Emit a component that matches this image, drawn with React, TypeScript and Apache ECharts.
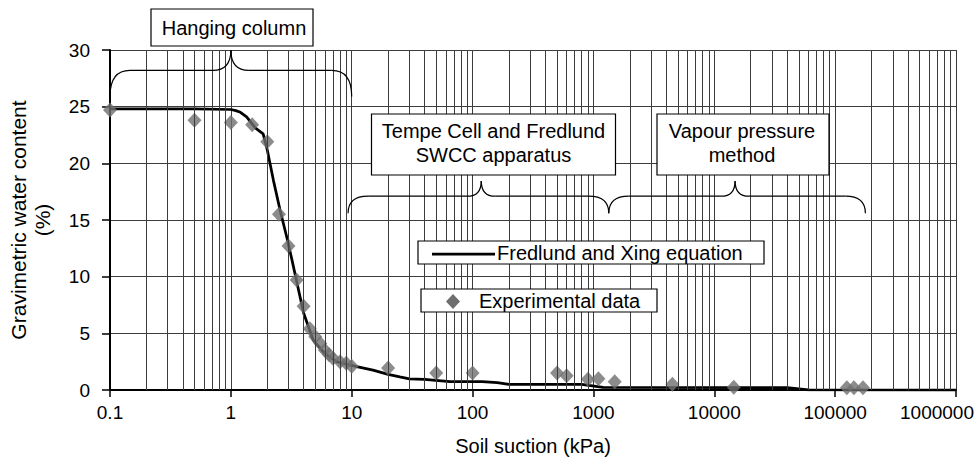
import React, { useEffect, useRef } from "react";
import * as echarts from "echarts";

// Experimental data (soil suction kPa, gravimetric water content %)
const expSuction = [0.1, 0.5, 1, 1.5, 2, 2.5, 3, 3.5, 4, 4.5, 5, 5.5, 6, 6.5, 7, 8, 9, 10, 20, 50, 100, 500, 600, 900, 1100, 1500, 4500, 14500, 125000, 143000, 170000];
const expWater = [24.7, 23.8, 23.6, 23.4, 21.9, 15.5, 12.7, 9.7, 7.4, 5.4, 4.7, 4.1, 3.5, 3.1, 2.8, 2.5, 2.35, 2.1, 1.95, 1.5, 1.5, 1.5, 1.25, 0.95, 1.0, 0.73, 0.5, 0.25, 0.2, 0.2, 0.2];

// Fredlund and Xing equation curve
const fitSuction = [0.1, 0.5, 1, 1.1, 1.2, 1.35, 1.6, 1.85, 2, 2.25, 2.55, 2.9, 3.2, 3.5, 4, 4.8, 6, 7.5, 11, 15, 20, 25, 30, 40, 65, 120, 160, 200, 800, 1200, 40000, 60000, 1000000];
const fitWater = [24.8, 24.8, 24.75, 24.65, 24.5, 24.1, 23.1, 22.6, 21.2, 18.5, 15.9, 13.5, 11.5, 9.6, 6.8, 4.4, 3.2, 2.5, 2.06, 1.76, 1.38, 1.15, 0.98, 0.94, 0.73, 0.73, 0.65, 0.5, 0.5, 0.24, 0.2, 0.02, 0];

const xTitle = "Soil suction (kPa)";
const yTitle = "Gravimetric water content\n(%)";
const legendLine = "Fredlund and Xing equation";
const legendMarker = "Experimental data";
const boxHanging = "Hanging column";
const boxTempe = "Tempe Cell and Fredlund\nSWCC apparatus";
const boxVapour = "Vapour pressure\nmethod";

const FONT = "'Liberation Sans', Arial, Helvetica, sans-serif";
const GRID_COLOR = "#3c3c3c";
const MARK_COLOR = "#6f6f6f";

export default function App() {
  const ref = useRef<HTMLDivElement>(null);
  useEffect(() => {
    const el = ref.current as HTMLDivElement;
    const chart = echarts.init(el, undefined, { renderer: "svg" });

    const minor: number[] = [];
    for (let e = -1; e < 6; e++) {
      for (let k = 2; k <= 9; k++) minor.push(Number((k * Math.pow(10, e)).toPrecision(6)));
    }

    chart.setOption({
      animation: false,
      backgroundColor: "#fff",
      grid: { left: 110, right: 21, top: 50, bottom: 72, containLabel: false, outerBoundsMode: "none" },
      xAxis: {
        type: "log",
        logBase: 10,
        min: 0.1,
        max: 1000000,
        splitNumber: 7,
        axisLine: { show: true, onZero: false, lineStyle: { color: "#000", width: 2 } },
        axisTick: { show: true, inside: false, length: 7, lineStyle: { color: "#000", width: 1.5 } },
        axisLabel: {
          color: "#000",
          fontSize: 19,
          fontFamily: FONT,
          margin: 13,
          hideOverlap: false,
          formatter: (v: number) => {
            const s = String(Number(v.toPrecision(6)));
            return v >= 999999 ? `{last|${s}}` : s;
          },
          rich: {
            last: { color: "#000", fontSize: 19, fontFamily: FONT, padding: [0, 38, 0, 0] },
          },
        },
        splitLine: { show: true, lineStyle: { color: GRID_COLOR, width: 1 } },
        minorTick: { show: false },
        minorSplitLine: { show: false },
      },
      yAxis: {
        type: "value",
        min: 0,
        max: 30,
        interval: 5,
        axisLine: { show: true, lineStyle: { color: "#000", width: 2 } },
        axisTick: { show: true, inside: false, length: 8, lineStyle: { color: "#000", width: 1.5 } },
        axisLabel: { color: "#000", fontSize: 19, fontFamily: FONT, margin: 20 },
        splitLine: { show: true, lineStyle: { color: GRID_COLOR, width: 1 } },
      },
      series: [
        {
          name: "minorGrid",
          type: "line",
          data: [],
          silent: true,
          markLine: {
            silent: true,
            symbol: ["none", "none"],
            label: { show: false },
            emphasis: { disabled: true },
            lineStyle: { color: GRID_COLOR, width: 1, type: "solid" },
            data: minor.map((v) => ({ xAxis: v })),
          },
        },
        {
          name: legendLine,
          type: "line",
          data: fitSuction.map((x, i) => [x, fitWater[i]]),
          showSymbol: false,
          symbol: "none",
          smooth: false,
          lineStyle: { color: "#000", width: 2.75 },
          z: 3,
          silent: true,
        },
        {
          name: legendMarker,
          type: "scatter",
          data: expSuction.map((x, i) => [x, expWater[i]]),
          symbol: "diamond",
          symbolSize: [14, 15],
          itemStyle: { color: MARK_COLOR },
          clip: false,
          z: 4,
          silent: true,
        },
      ],
    });

    const p = (x: number, y: number) => chart.convertToPixel({ gridIndex: 0 }, [x, y]) as number[];

    const brace = (xa: number, xp: number, xb: number, yTip: number, yMid: number, yPeak: number, rEnd: number, rPeak: number) => {
      const A = p(xa, yTip);
      const P = p(xp, yPeak);
      const B = p(xb, yTip);
      const ym = p(xa, yMid)[1];
      const st = { stroke: "#000", lineWidth: 1.2, fill: "none" };
      const z = 50;
      return [
        { type: "bezierCurve", z, shape: { x1: A[0], y1: A[1], cpx1: A[0], cpy1: ym, x2: A[0] + rEnd, y2: ym }, style: st },
        { type: "line", z, shape: { x1: A[0] + rEnd, y1: ym, x2: P[0] - rPeak, y2: ym }, style: st },
        { type: "bezierCurve", z, shape: { x1: P[0] - rPeak, y1: ym, cpx1: P[0], cpy1: ym, x2: P[0], y2: P[1] }, style: st },
        { type: "bezierCurve", z, shape: { x1: P[0], y1: P[1], cpx1: P[0], cpy1: ym, x2: P[0] + rPeak, y2: ym }, style: st },
        { type: "line", z, shape: { x1: P[0] + rPeak, y1: ym, x2: B[0] - rEnd, y2: ym }, style: st },
        { type: "bezierCurve", z, shape: { x1: B[0] - rEnd, y1: ym, cpx1: B[0], cpy1: ym, x2: B[0], y2: B[1] }, style: st },
      ];
    };

    const box = (x: number, y: number, w: number, h: number) => ({
      type: "rect",
      z: 60,
      shape: { x, y, width: w, height: h },
      style: { fill: "#fff", stroke: "#000", lineWidth: 1.2 },
    });
    const txt = (x: number, y: number, text: string, align: string, size = 20) => ({
      type: "text",
      z: 61,
      x,
      y,
      style: { text, fill: "#000", font: `${size}px ${FONT}`, textAlign: align, textVerticalAlign: "middle", lineHeight: 24 },
    });

    const mk = { cx: 453, cy: 301.5 };

    chart.setOption({
      graphic: [
        ...brace(0.1, 1, 10, 25.9, 28.2, 30, 20, 18),
        ...brace(9.33, 118, 1340, 15.6, 17.1, 18.45, 20, 14),
        ...brace(1340, 14860, 178000, 15.6, 17.1, 18.45, 20, 14),
        box(151, 9, 162, 37),
        txt(234, 28, boxHanging, "center"),
        box(371.5, 114, 244, 61),
        txt(493.5, 143, boxTempe, "center"),
        box(657, 114, 172, 61),
        txt(742, 143, boxVapour, "center"),
        box(418, 241, 346, 23),
        { type: "line", z: 61, shape: { x1: 432, y1: 254, x2: 495, y2: 254 }, style: { stroke: "#000", lineWidth: 2.75 } },
        txt(497, 253, legendLine, "left"),
        box(421, 289, 236, 23),
        {
          type: "polygon",
          z: 61,
          shape: { points: [[mk.cx, mk.cy - 7.5], [mk.cx + 7, mk.cy], [mk.cx, mk.cy + 7.5], [mk.cx - 7, mk.cy]] },
          style: { fill: MARK_COLOR },
        },
        txt(479, 301, legendMarker, "left"),
        txt(533, 446, xTitle, "center"),
        {
          type: "text",
          z: 61,
          x: 30,
          y: 220,
          rotation: Math.PI / 2,
          style: { text: yTitle, fill: "#000", font: `21px ${FONT}`, textAlign: "center", textVerticalAlign: "middle", lineHeight: 24 },
        },
      ],
    });

    return () => chart.dispose();
  }, []);
  return <div ref={ref} style={{ position: "fixed", left: 0, top: 0, width: 977, height: 462, background: "#fff" }} />;
}
